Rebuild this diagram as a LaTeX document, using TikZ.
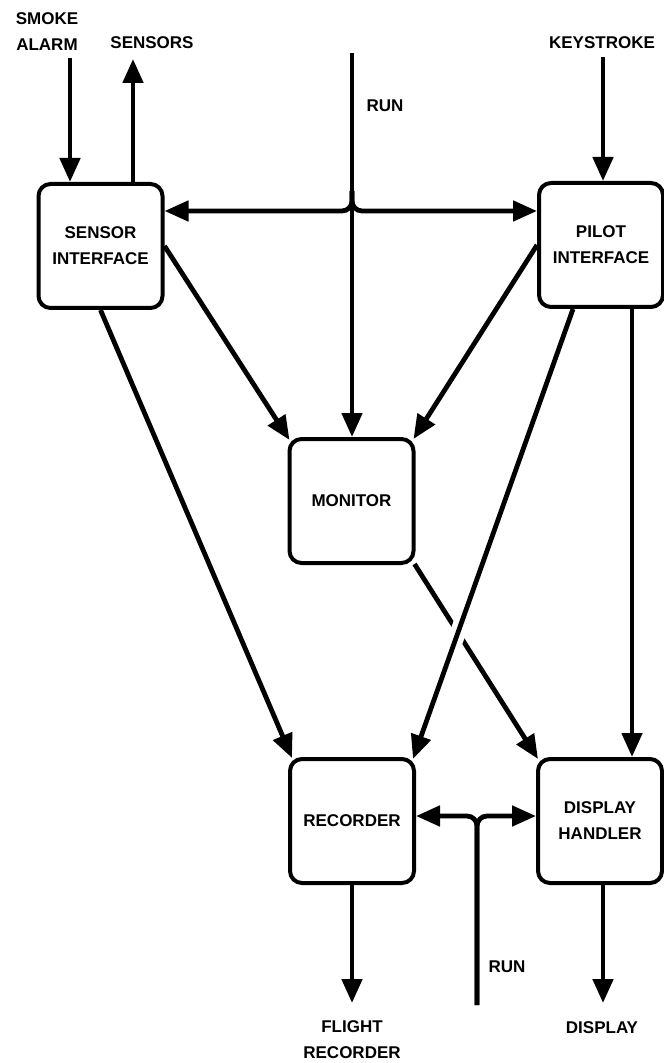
\documentclass[tikz,border=0pt]{standalone}
\usepackage{fontspec}
\setsansfont{Liberation Sans}
\usetikzlibrary{arrows.meta,calc}
\tikzset{every node/.append style={execute at begin node={\sffamily\bfseries\fontsize{8.5}{13}\selectfont}}}

\begin{document}
\begin{tikzpicture}[x=0.5pt,y=-0.5pt,
  box/.style={draw,line width=2pt,rounded corners=6pt,fill=white,minimum width=62pt,minimum height=62pt,inner sep=0pt,align=center},
  arr/.style={line width=2.4pt,-{Triangle[length=12pt,width=10pt]}},
  lab/.style={align=center,inner sep=0pt}]
\useasboundingbox (0,0) rectangle (663,1063);
% blocks
\node[box] (sens) at (100.5,246) {SENSOR\\INTERFACE};
\node[box] (pil) at (601,245) {PILOT\\INTERFACE};
\node[box] (mon) at (351.5,501) {MONITOR};
\node[box] (rec) at (352,821) {RECORDER};
\node[box] (dsp) at (600,821) {DISPLAY\\HANDLER};
% outside labels
\node[lab] (smoke) at (47,32) {SMOKE\\ALARM};
\node[lab] (snsrs) at (152,43) {SENSORS};
\node[lab] (keys) at (602,43) {KEYSTROKE};
\node[lab] (runtop) at (385,106) {RUN};
\node[lab] (runbot) at (507,967) {RUN};
\node[lab] (flight) at (352,1040) {FLIGHT\\RECORDER};
\node[lab] (disp) at (602,1028) {DISPLAY};
% free ends
\coordinate (smk) at (70,58); \coordinate (snr) at (133,59); \coordinate (key) at (603,57);
\coordinate (runA) at (352,53); \coordinate (busA) at (352,211);
\coordinate (runB) at (477,1005); \coordinate (busB) at (477,816);
\coordinate (fltend) at (352,1003); \coordinate (dspend) at (603,1003);
% inputs and outputs
\draw[arr] (smk) -- (smk |- sens.north);
\draw[arr] (snr |- sens.north) -- (snr);
\draw[arr] (key) -- (key |- pil.north);
\draw[arr] (rec.south) -- (fltend);
\draw[arr] (dsp.south -| dspend) -- (dspend);
% run lines
\draw[arr] (runA) -- (runA |- mon.north);
\draw[arr,rounded corners=5pt] ($(busA)+(0,-20)$) -- (busA) -- (busA -| sens.east);
\draw[arr,rounded corners=5pt] ($(busA)+(0,-20)$) -- (busA) -- (busA -| pil.west);
\draw[arr,rounded corners=5pt] (runB) -- (busB) -- (busB -| rec.east);
\draw[arr,rounded corners=5pt] (runB) -- (busB) -- (busB -| dsp.west);
% data flows
\draw[arr] (sens.east) -- ($(mon.north west)+(2,3)$);
\draw[arr] (sens.south) -- ($(rec.north west)+(4,1)$);
\draw[arr] (pil.west) -- ($(mon.north east)+(-2,2)$);
\coordinate (pd) at ($(pil.south)+(31,0)$);
\draw[arr] (pd) -- (pd |- dsp.north);
\draw[arr] ($(mon.south east)+(-1,-1)$) -- ($(dsp.north west)+(2,2)$);
\coordinate (pr1) at ($(pil.south)+(-28,0)$); \coordinate (pr2) at ($(rec.north east)+(-3,2)$);
\draw[white,line width=8pt] ($(pr1)!0.64!(pr2)$) -- ($(pr1)!0.78!(pr2)$);
\draw[arr] (pr1) -- (pr2);
\end{tikzpicture}
\end{document}
